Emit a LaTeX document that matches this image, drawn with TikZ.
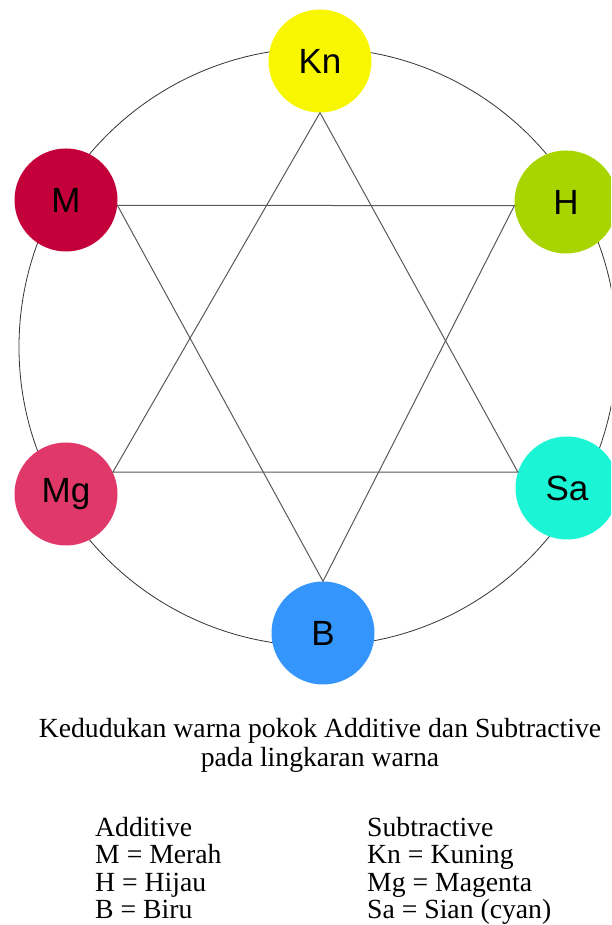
\documentclass[tikz,border=0pt]{standalone}
\usepackage{fontspec}
\usepackage{xcolor}
\setmainfont{Liberation Serif}
\newfontfamily\labelfont{Liberation Sans}

\definecolor{kuning}{RGB}{248,246,0}
\definecolor{merah}{RGB}{196,0,58}
\definecolor{hijau}{RGB}{168,212,0}
\definecolor{magenta}{RGB}{224,56,104}
\definecolor{sian}{RGB}{28,244,214}
\definecolor{biru}{RGB}{52,150,252}

\begin{document}
\begin{tikzpicture}[x=1pt, y=1pt,
    warna/.style={circle, minimum size=103pt, inner sep=0pt,
        font=\labelfont\fontsize{35}{35}\selectfont},
    garis/.style={draw=black!65, line width=1pt},
    teks/.style={inner sep=0pt, font=\fontsize{27.7}{27.7}\selectfont}]
    \useasboundingbox (0,0) rectangle (611,925);
    \clip (0,0) rectangle (611,925);

    % lingkaran warna
    \coordinate (pusat) at (318,578);
    \draw[black!80, line width=0.8pt] (pusat) circle (299);

    \node[warna, fill=kuning] (Kn) at (320,864) {Kn};
    \node[warna, fill=merah] (M) at (66,725) {M};
    \node[warna, fill=hijau] (H) at (566,723) {H};
    \node[warna, fill=magenta] (Mg) at (66,431) {Mg};
    \node[warna, fill=sian] (Sa) at (567,437) {Sa};
    \node[warna, fill=biru] (B) at (323,292) {B};

    % bintang
    \draw[garis] (Kn.south) -- (Mg.25) -- (Sa.162) -- cycle;
    \draw[garis] (M.-6) -- (H.184) -- (B.north) -- cycle;

    % keterangan
    \node[teks, anchor=base] (judul1) at (320,187) {Kedudukan warna pokok Additive dan Subtractive};
    \node[teks, anchor=base] (judul2) at (320,158) {pada lingkaran warna};

    \node[teks, anchor=base west] (add) at (95,88) {Additive};
    \node[teks, anchor=base west] (addM) at (95,61) {M = Merah};
    \node[teks, anchor=base west] (addH) at (95,33) {H = Hijau};
    \node[teks, anchor=base west] (addB) at (95,6) {B = Biru};

    \node[teks, anchor=base west] (sub) at (367,88) {Subtractive};
    \node[teks, anchor=base west] (subKn) at (367,61) {Kn = Kuning};
    \node[teks, anchor=base west] (subMg) at (367,33) {Mg = Magenta};
    \node[teks, anchor=base west] (subSa) at (367,6) {Sa = Sian (cyan)};
\end{tikzpicture}
\end{document}
